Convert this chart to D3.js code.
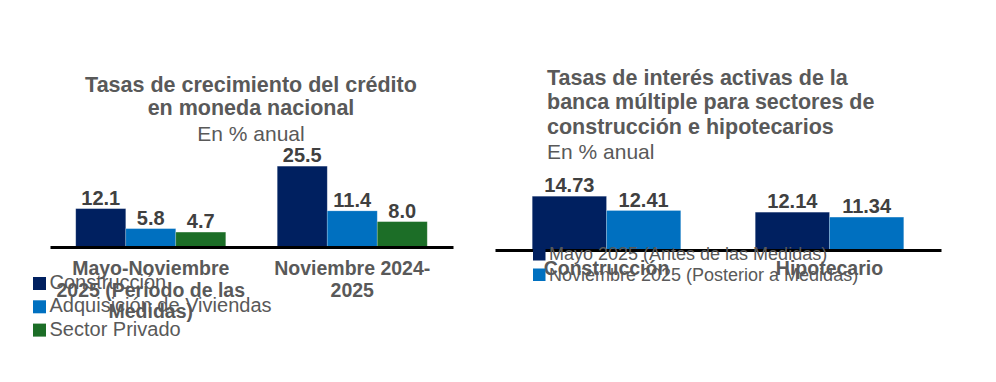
<!DOCTYPE html>
<html><head><meta charset="utf-8">
<script src="https://cdn.jsdelivr.net/npm/d3@7"></script>
<style>body{margin:0;background:#fff} svg{display:block;font-family:"Liberation Sans",Arial,sans-serif}</style>
</head><body><svg id="c" width="996" height="382"></svg>
<script>
// ---- Left chart data ----
const leftCategories = ["Mayo-Noviembre 2025 (Período de las Medidas)", "Noviembre 2024-2025"];
const leftCategoryLines = [["Mayo-Noviembre", "2025 (Período de las", "Medidas)"], ["Noviembre 2024-", "2025"]];
const leftSeries = ["Construcción", "Adquisición de Viviendas", "Sector Privado"];
const leftConstruccion = [12.1, 25.5];
const leftAdquisicion = [5.8, 11.4];
const leftSectorPrivado = [4.7, 8.0];
const leftTitle = ["Tasas de crecimiento del crédito", "en moneda nacional"];
const leftSubtitle = "En % anual";

// ---- Right chart data ----
const rightCategories = ["Construcción", "Hipotecario"];
const rightCategoryLines = [["Construcción"], ["Hipotecario"]];
const rightSeries = ["Mayo 2025 (Antes de las Medidas)", "Noviembre 2025 (Posterior a Medidas)"];
const rightMayo = [14.73, 12.14];
const rightNoviembre = [12.41, 11.34];
const rightTitle = ["Tasas de interés activas de la", "banca múltiple para sectores de", "construcción e hipotecarios"];
const rightSubtitle = "En % anual";

const colors = ["#002060", "#0070C0", "#1C6E27"];
const svg = d3.select("#c");

function drawChart(o) {
  const g = svg.append("g");
  const x0 = d3.scaleBand().domain(o.categories).range(o.xRange)
    .paddingInner(o.pi).paddingOuter(o.pi / 2);
  const x1 = d3.scaleBand().domain(o.series).range([0, x0.bandwidth()]);
  const y = d3.scaleLinear().domain(o.yDomain).range(o.yRange);
  const color = d3.scaleOrdinal().domain(o.series).range(colors);
  const fmt = d3.format(o.fmt);

  // titles
  o.title.forEach((t, i) => {
    g.append("text").attr("x", o.titleX).attr("y", o.titleY[i])
      .attr("text-anchor", o.titleAnchor).attr("font-size", 21.5).attr("font-weight", "bold")
      .attr("fill", "#595959").text(t);
  });
  g.append("text").attr("x", o.titleX).attr("y", o.titleY[o.title.length])
    .attr("text-anchor", o.titleAnchor).attr("font-size", 21)
    .attr("fill", "#595959").text(o.subtitle);

  const groups = g.selectAll("g.grp").data(o.categories).join("g")
    .attr("transform", d => `translate(${x0(d)},0)`);
  groups.selectAll("rect").data((d, ci) => o.series.map((s, si) => ({ s, v: o.values[si][ci] })))
    .join("rect")
    .attr("x", d => x1(d.s)).attr("width", x1.bandwidth())
    .attr("y", d => y(d.v)).attr("height", d => y.range()[0] - y(d.v))
    .attr("fill", d => color(d.s))
    .attr("stroke", "rgba(255,255,255,0.25)").attr("stroke-width", 0.8);
  groups.selectAll("text").data((d, ci) => o.series.map((s, si) => ({ s, v: o.values[si][ci] })))
    .join("text")
    .attr("x", d => x1(d.s) + x1.bandwidth() / 2).attr("y", d => y(d.v) - 4)
    .attr("text-anchor", "middle").attr("font-size", 20).attr("font-weight", "bold")
    .attr("fill", "#404040").text(d => fmt(d.v));

  // axis
  const ax = g.append("g").attr("transform", `translate(0,${y.range()[0]})`)
    .call(d3.axisBottom(x0).tickSize(0).tickSizeOuter(0).tickFormat(""));
  ax.select(".domain").attr("stroke", "#000").attr("stroke-width", 3);

  // category labels
  o.categories.forEach((c, ci) => {
    o.catLines[ci].forEach((ln, li) => {
      g.append("text").attr("x", x0(c) + x0.bandwidth() / 2).attr("y", o.catY + li * 21.5)
        .attr("text-anchor", "middle").attr("font-size", 19.5).attr("font-weight", "bold")
        .attr("fill", "#595959").text(ln);
    });
  });

  // legend
  o.series.forEach((s, si) => {
    g.append("rect").attr("x", o.legX).attr("y", o.legSqY + si * o.legStep)
      .attr("width", o.legSq).attr("height", o.legSq).attr("fill", color(s));
    g.append("text").attr("x", o.legX + o.legSq + 3.5).attr("y", o.legTextY + si * o.legStep)
      .attr("font-size", o.legFont).attr("fill", "#595959").text(s);
  });
}

drawChart({
  categories: leftCategories, catLines: leftCategoryLines, series: leftSeries,
  values: [leftConstruccion, leftAdquisicion, leftSectorPrivado],
  xRange: [50, 453], pi: 0.2556, yDomain: [0, 30], yRange: [247, 151.9], fmt: ".1f",
  title: leftTitle, subtitle: leftSubtitle, titleX: 251, titleAnchor: "middle", titleY: [92.3, 115.3, 140.7],
  catY: 275,
  legX: 33, legSqY: 277, legSq: 13, legStep: 23.3, legTextY: 289, legFont: 20
});

drawChart({
  categories: rightCategories, catLines: rightCategoryLines, series: rightSeries,
  values: [rightMayo, rightNoviembre],
  xRange: [495, 941], pi: 0.334, yDomain: [6, 16], yRange: [250, 188.4], fmt: ".2f",
  title: rightTitle, subtitle: rightSubtitle, titleX: 547, titleAnchor: "start", titleY: [85, 109.3, 133.5, 159],
  catY: 275,
  legX: 533, legSqY: 248, legSq: 12.5, legStep: 20.5, legTextY: 260, legFont: 18
});
</script></body></html>
